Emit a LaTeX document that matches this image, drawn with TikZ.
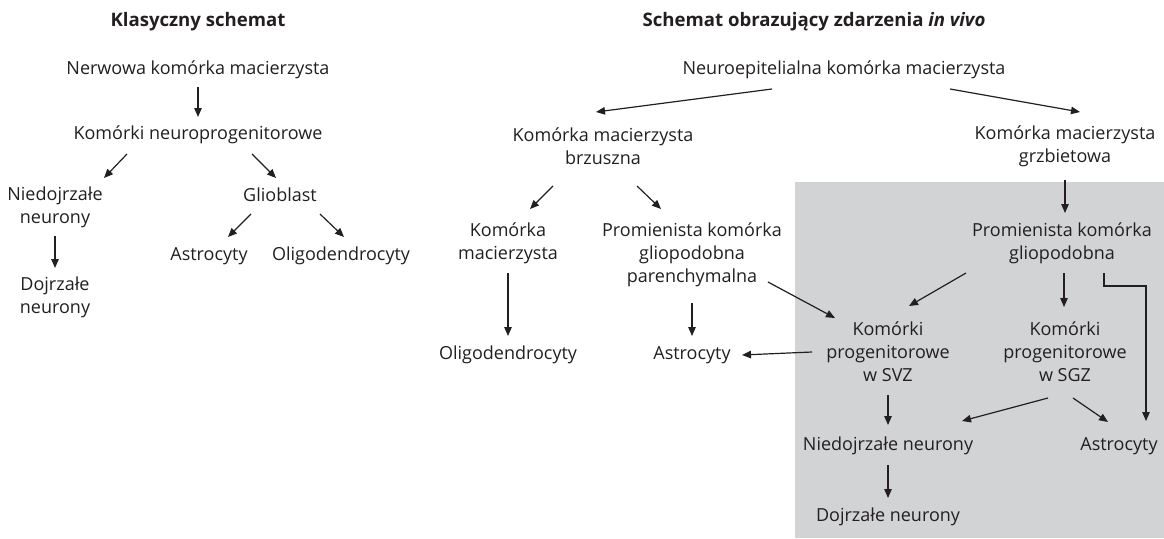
\documentclass[tikz,border=0pt]{standalone}
\usepackage{fontspec}
\setmainfont{Open Sans}
\usetikzlibrary{arrows.meta}
\definecolor{ink}{HTML}{231F20}
\definecolor{panel}{HTML}{D2D3D5}
\begin{document}
\begin{tikzpicture}[x=1pt,y=-1pt,
  lbl/.style={inner sep=0pt,align=center,text=ink,font=\fontsize{18}{23}\selectfont},
  ttl/.style={inner sep=0pt,align=center,text=ink,font=\fontsize{18.6}{23}\selectfont\bfseries},
  arr/.style={draw=ink,line width=1.2pt,-{Triangle[length=9pt,width=7.5pt]}}]
\useasboundingbox (0,0) rectangle (1164,538);
\fill[panel] (795,182) rectangle (1164,538);
% left
\node[ttl] (t1) at (198,22) {Klasyczny schemat};
\node[lbl] (a1) at (198,70) {Nerwowa komórka macierzysta};
\node[lbl] (a2) at (198,135) {Komórki neuroprogenitorowe};
\node[lbl] (a3) at (55,207) {Niedojrzałe\\neurony};
\node[lbl] (a4) at (55,297) {Dojrzałe\\neurony};
\node[lbl] (a5) at (280,195) {Glioblast};
\node[lbl] (a6) at (209,256) {Astrocyty};
\node[lbl] (a7) at (341,256) {Oligodendrocyty};
\draw[arr] ([shift={(0,17)}]a1.center) -- ([shift={(0,-18)}]a2.center);
\draw[arr] ([shift={(-71,19)}]a2.center) -- ([shift={(49,-29)}]a3.center);
\draw[arr] ([shift={(54,19)}]a2.center) -- ([shift={(-4,-17)}]a5.center);
\draw[arr] ([shift={(0,29)}]a3.center) -- ([shift={(0,-29)}]a4.center);
\draw[arr] ([shift={(-29,19)}]a5.center) -- ([shift={(19,-19)}]a6.center);
\draw[arr] ([shift={(40,19)}]a5.center) -- ([shift={(3,-19)}]a7.center);
% right
\node[ttl] (t2) at (814,22) {Schemat obrazujący zdarzenia \textit{in vivo}};
\node[lbl] (b1) at (844,70) {Neuroepitelialna komórka macierzysta};
\node[lbl] (b2) at (603,146.5) {Komórka macierzysta\\brzuszna};
\node[lbl] (b3) at (1065,146.5) {Komórka macierzysta\\grzbietowa};
\node[lbl] (b4) at (508,243.5) {Komórka\\macierzysta};
\node[lbl] (b5) at (692,255) {Promienista komórka\\gliopodobna\\parenchymalna};
\node[lbl] (b6) at (508,355) {Oligodendrocyty};
\node[lbl] (b7) at (692,355) {Astrocyty};
\node[lbl] (b8) at (1062,243.5) {Promienista komórka\\gliopodobna};
\node[lbl] (b9) at (888,352) {Komórki\\progenitorowe\\w SVZ};
\node[lbl] (b10) at (1065,352) {Komórki\\progenitorowe\\w SGZ};
\node[lbl] (b11) at (888,446) {Niedojrzałe neurony};
\node[lbl] (b12) at (1119,446) {Astrocyty};
\node[lbl] (b13) at (888,517) {Dojrzałe neurony};
\draw[arr] ([shift={(-72,19)}]b1.center) -- ([shift={(-7,-34.5)}]b2.center);
\draw[arr] ([shift={(106,19)}]b1.center) -- ([shift={(15,-34.5)}]b3.center);
\draw[arr] ([shift={(-50,39.5)}]b2.center) -- ([shift={(22,-34.5)}]b4.center);
\draw[arr] ([shift={(34,39.5)}]b2.center) -- ([shift={(-31,-46)}]b5.center);
\draw[arr] ([shift={(0,29.5)}]b4.center) -- ([shift={(0,-19)}]b6.center);
\draw[arr] ([shift={(0,48)}]b5.center) -- ([shift={(0,-19)}]b7.center);
\draw[arr] ([shift={(76,27)}]b5.center) -- ([shift={(-53,-34)}]b9.center);
\draw[arr] ([shift={(-76,0)}]b9.center) -- ([shift={(50,0)}]b7.center);
\draw[arr] ([shift={(0,33.5)}]b3.center) -- ([shift={(3,-30.5)}]b8.center);
\draw[arr] ([shift={(-96,29.5)}]b8.center) -- ([shift={(21,-46)}]b9.center);
\draw[arr] ([shift={(2,29.5)}]b8.center) -- ([shift={(-1,-45)}]b10.center);
\draw[arr] ([shift={(42,29.5)}]b8.center) -- ++(0,13) -| ([shift={(27,-25)}]b12.center);
\draw[arr] ([shift={(0,43)}]b9.center) -- ([shift={(0,-21)}]b11.center);
\draw[arr] ([shift={(-17,46)}]b10.center) -- ([shift={(74,-25)}]b11.center);
\draw[arr] ([shift={(8,46)}]b10.center) -- ([shift={(-11,-24)}]b12.center);
\draw[arr] ([shift={(0,19)}]b11.center) -- ([shift={(0,-19)}]b13.center);
\end{tikzpicture}
\end{document}
